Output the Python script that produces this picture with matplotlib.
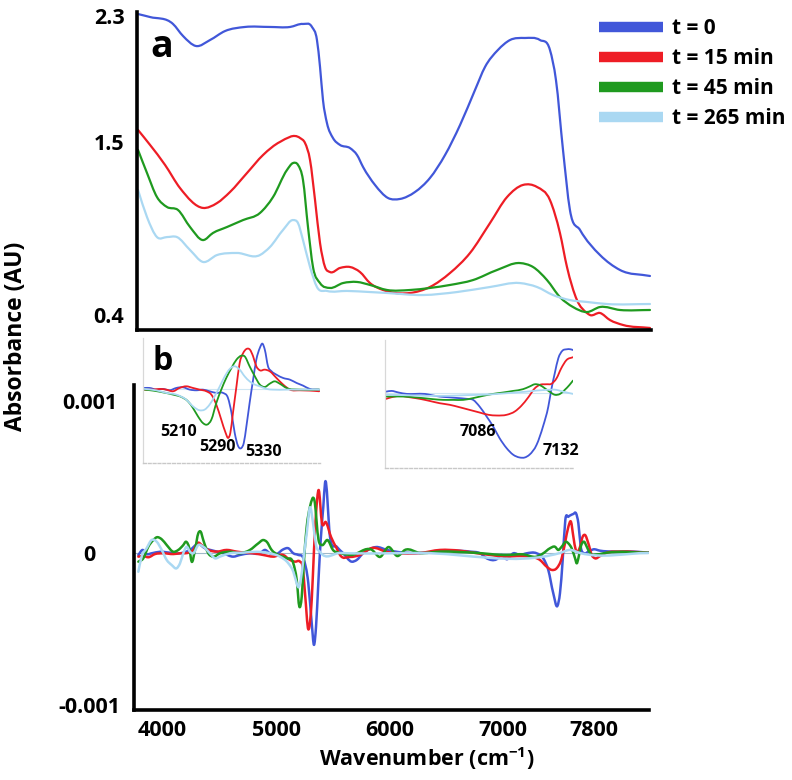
import matplotlib
matplotlib.use("Agg")
import matplotlib.pyplot as plt
import numpy as np
from matplotlib.lines import Line2D
from matplotlib.path import Path
from matplotlib.patches import PathPatch

plt.rcParams["font.family"] = ["Open Sans", "DejaVu Sans"]
plt.rcParams["font.weight"] = "bold"
plt.rcParams["mathtext.fontset"] = "custom"
plt.rcParams["mathtext.rm"] = "Open Sans:bold"
plt.rcParams["mathtext.bf"] = "Open Sans:bold"

SERIES = ["t = 0", "t = 15 min", "t = 45 min", "t = 265 min"]
COLORS = ["#4157d9", "#ee1d25", "#1f9a1f", "#aad8f2"]

# ---- panel a: absorbance (AU) vs wavenumber (cm-1)
a_blue_wn = [3783, 3889, 4091, 4179, 4294, 4417, 4549, 4725, 4945, 5122,
             5236, 5315, 5359, 5386, 5412, 5447, 5500, 5562, 5650, 5712,
             5765, 5870, 5985, 6090, 6222, 6354, 6487, 6619, 6751, 6839,
             6953, 7059, 7191, 7323, 7411, 7464, 7526, 7587, 7676, 7852,
             8028, 8292]
a_blue = [2.312, 2.293, 2.249, 2.173, 2.109, 2.147, 2.204, 2.230, 2.230, 2.230,
          2.249, 2.230, 2.147, 1.976, 1.766, 1.620, 1.525, 1.481, 1.461, 1.417,
          1.341, 1.227, 1.144, 1.138, 1.182, 1.271, 1.417, 1.607, 1.830, 1.976,
          2.084, 2.147, 2.160, 2.147, 2.084, 1.893, 1.449, 1.068, 0.941, 0.782,
          0.687, 0.649]
a_red_wn = [3783, 3889, 4021, 4153, 4355, 4479, 4593, 4743, 4884, 5033,
            5210, 5254, 5298, 5342, 5386, 5430, 5474, 5562, 5650, 5738,
            5826, 5941, 6002, 6178, 6354, 6531, 6707, 6883, 7033, 7174,
            7297, 7411, 7499, 7561, 7649, 7737, 7764, 7852, 7940, 8054, 8292]
a_red = [1.576, 1.481, 1.354, 1.207, 1.081, 1.112, 1.182, 1.303, 1.417, 1.500,
         1.525, 1.493, 1.385, 1.131, 0.858, 0.706, 0.674, 0.700, 0.706, 0.674,
         0.604, 0.560, 0.547, 0.541, 0.579, 0.668, 0.795, 0.985, 1.150, 1.227,
         1.214, 1.131, 0.922, 0.706, 0.496, 0.414, 0.401, 0.414, 0.369, 0.338,
         0.319]
a_green_wn = [3783, 3862, 3950, 4038, 4135, 4241, 4355, 4443, 4567, 4708,
              4857, 4972, 5095, 5148, 5192, 5236, 5280, 5324, 5386, 5474,
              5588, 5712, 5826, 5976, 6178, 6354, 6531, 6733, 6945, 7147,
              7262, 7385, 7499, 7614, 7737, 7852, 8028, 8292]
a_green = [1.449, 1.303, 1.150, 1.087, 1.068, 0.960, 0.877, 0.922, 0.960, 1.004,
           1.049, 1.150, 1.322, 1.366, 1.354, 1.258, 0.960, 0.706, 0.604, 0.573,
           0.604, 0.611, 0.592, 0.560, 0.560, 0.573, 0.592, 0.623, 0.687, 0.731,
           0.706, 0.623, 0.515, 0.452, 0.420, 0.452, 0.433, 0.433]
a_light_wn = [3783, 3862, 3950, 4038, 4126, 4241, 4355, 4479, 4655, 4857,
              4945, 5060, 5148, 5192, 5236, 5298, 5359, 5447, 5623, 5826,
              5976, 6293, 6592, 6883, 7147, 7297, 7438, 7587, 7737, 7913, 8292]
a_light = [1.195, 1.023, 0.896, 0.896, 0.896, 0.814, 0.738, 0.782, 0.795, 0.782,
           0.833, 0.941, 1.004, 0.985, 0.877, 0.706, 0.579, 0.554, 0.554, 0.547,
           0.541, 0.528, 0.547, 0.579, 0.604, 0.579, 0.528, 0.496, 0.484, 0.471,
           0.471]

# ---- panel b: second derivative, in units of 1e-3
b_blue_wn = [3786, 3824, 3859, 3903, 3977, 4065, 4153, 4241, 4314, 4373,
             4446, 4534, 4622, 4681, 4769, 4857, 4901, 4945, 5004, 5063,
             5107, 5151, 5195, 5239, 5283, 5313, 5333, 5351, 5371, 5392,
             5415, 5430, 5474, 5533, 5588, 5665, 5709, 5767, 5808, 5879,
             5976, 6068, 6266, 6443, 6560, 6707, 6795, 6854, 6942, 6986,
             7030, 7088, 7147, 7206, 7294, 7352, 7396, 7440, 7476, 7499,
             7523, 7546, 7573, 7617, 7640, 7661, 7682, 7711, 7749, 7793,
             7852, 7969, 8145, 8277]
b_blue = [-0.013, 0.020, -0.007, -0.002, 0.008, 0.002, -0.002, 0.020, 0.059, 0.031,
          0.015, -0.002, -0.024, -0.013, -0.002, -0.002, 0.020, -0.002, -0.007, 0.024,
          0.031, -0.002, -0.013, -0.035, -0.199, -0.461, -0.603, -0.483, -0.199, 0.085,
          0.303, 0.459, 0.105, 0.041, 0.000, -0.057, -0.046, 0.000, 0.020, 0.039,
          0.020, 0.007, 0.000, 0.009, 0.015, 0.009, -0.002, -0.035, -0.041, -0.013,
          -0.041, -0.002, -0.013, -0.002, -0.002, -0.035, -0.111, -0.264, -0.348, -0.264,
          -0.046, 0.216, 0.238, 0.256, 0.261, 0.195, 0.041, -0.002, 0.009, 0.024,
          0.015, 0.009, 0.009, 0.002]
b_red_wn = [3786, 3830, 3874, 3933, 4006, 4094, 4153, 4226, 4270, 4314,
            4344, 4402, 4476, 4564, 4652, 4725, 4798, 4886, 4974, 5063,
            5122, 5166, 5210, 5233, 5254, 5283, 5313, 5333, 5351, 5373,
            5403, 5437, 5483, 5531, 5562, 5650, 5738, 5844, 5976, 6266,
            6443, 6619, 6736, 6883, 7030, 7147, 7235, 7323, 7382, 7426,
            7470, 7514, 7543, 7573, 7596, 7617, 7638, 7652, 7676, 7699,
            7720, 7749, 7779, 7808, 7852, 7911, 8028, 8277]
b_red = [-0.024, -0.020, -0.028, -0.007, -0.002, -0.007, -0.002, 0.002, 0.020, 0.068,
         0.052, 0.020, 0.009, 0.020, 0.009, 0.002, -0.002, -0.013, -0.024, -0.013,
         -0.046, -0.057, -0.057, -0.090, -0.265, -0.501, -0.308, 0.020, 0.260, 0.413,
         0.197, 0.203, 0.105, 0.033, -0.013, -0.026, -0.013, 0.033, 0.007, 0.000,
         0.020, 0.015, 0.002, -0.013, -0.024, -0.020, -0.024, -0.046, -0.090, -0.111,
         -0.100, -0.035, 0.063, 0.172, 0.205, 0.107, 0.020, 0.009, 0.041, 0.107,
         0.118, 0.063, -0.013, -0.035, -0.020, 0.002, 0.009, 0.002]
b_green_wn = [3786, 3830, 3874, 3918, 3948, 3992, 4036, 4094, 4138, 4182,
              4206, 4235, 4256, 4285, 4314, 4335, 4358, 4402, 4446, 4505,
              4593, 4681, 4769, 4842, 4886, 4916, 4960, 5018, 5092, 5151,
              5181, 5204, 5225, 5245, 5269, 5298, 5336, 5373, 5403, 5453,
              5500, 5562, 5659, 5844, 5914, 5989, 6068, 6134, 6266, 6443,
              6736, 7030, 7176, 7294, 7352, 7411, 7455, 7484, 7514, 7552,
              7573, 7602, 7632, 7647, 7661, 7682, 7711, 7735, 7764, 7823,
              7911, 8277]
b_green = [-0.057, -0.035, 0.041, 0.085, 0.103, 0.090, 0.052, 0.008, 0.020, 0.052,
           0.074, 0.031, -0.057, 0.020, 0.129, 0.140, 0.085, -0.002, -0.024, -0.002,
           0.008, -0.002, 0.020, 0.063, 0.085, 0.074, 0.020, -0.013, -0.035, -0.068,
           -0.177, -0.352, -0.287, -0.046, 0.173, 0.304, 0.348, 0.085, 0.052, 0.085,
           0.020, 0.000, -0.013, 0.020, -0.026, 0.039, -0.020, 0.020, 0.000, 0.009,
           0.002, -0.013, -0.009, -0.024, -0.002, 0.031, 0.041, 0.020, 0.041, 0.074,
           0.063, 0.031, -0.035, -0.068, -0.035, 0.041, 0.074, 0.041, -0.002, -0.009,
           0.002, 0.002]
b_light_wn = [3786, 3815, 3859, 3903, 3948, 3992, 4036, 4080, 4124, 4153,
              4182, 4212, 4241, 4270, 4314, 4358, 4417, 4461, 4505, 4593,
              4710, 4828, 4945, 5033, 5107, 5151, 5181, 5195, 5216, 5239,
              5269, 5298, 5324, 5351, 5386, 5562, 6266, 7499, 7587, 7676, 8275]
b_light = [-0.123, -0.024, 0.031, 0.085, 0.074, 0.020, -0.046, -0.079, -0.100, -0.068,
           -0.002, 0.041, 0.008, -0.002, 0.052, 0.041, -0.002, -0.035, -0.024, -0.002,
           0.002, 0.008, -0.002, -0.024, -0.068, -0.123, -0.199, -0.225, -0.177, -0.046,
           0.129, 0.300, 0.200, 0.052, 0.007, 0.000, 0.000, 0.000, 0.020, 0.000, 0.000]

# ---- inset 1 (5000-5600 cm-1), units of 1e-3
i1_blue_wn = [4997, 5015, 5037, 5060, 5083, 5106, 5129, 5152, 5175, 5197,
              5220, 5243, 5266, 5283, 5295, 5306, 5317, 5329, 5337, 5346,
              5357, 5369, 5380, 5392, 5401, 5409, 5420, 5432, 5449, 5472,
              5495, 5518, 5540, 5563, 5595]
i1_blue = [0.007, 0.007, -0.010, -0.003, -0.017, 0.007, 0.014, -0.010, -0.017, -0.010,
           -0.027, -0.044, -0.044, -0.096, -0.249, -0.454, -0.584, -0.608, -0.557, -0.386,
           -0.147, 0.092, 0.297, 0.417, 0.461, 0.400, 0.229, 0.178, 0.143, 0.109,
           0.092, 0.058, 0.031, -0.003, -0.010]
i1_red_wn = [4997, 5026, 5049, 5072, 5095, 5117, 5140, 5163, 5186, 5209,
             5226, 5243, 5260, 5275, 5283, 5291, 5300, 5312, 5323, 5335,
             5346, 5358, 5369, 5380, 5392, 5409, 5426, 5449, 5472, 5495,
             5529, 5563, 5595]
i1_red = [-0.010, -0.010, -0.003, -0.010, -0.027, 0.007, 0.024, 0.007, -0.010, -0.027,
          -0.061, -0.164, -0.318, -0.454, -0.505, -0.454, -0.249, 0.024, 0.263, 0.365,
          0.406, 0.400, 0.331, 0.229, 0.188, 0.195, 0.178, 0.109, 0.041, -0.010,
          -0.017, -0.020, -0.027]
i1_green_wn = [4997, 5026, 5060, 5095, 5123, 5146, 5163, 5180, 5197, 5211,
               5226, 5243, 5260, 5277, 5295, 5312, 5329, 5340, 5357, 5375,
               5392, 5409, 5426, 5443, 5460, 5483, 5529, 5595]
i1_green = [-0.010, -0.020, -0.038, -0.061, -0.085, -0.130, -0.198, -0.283, -0.352, -0.369,
            -0.318, -0.147, -0.010, 0.109, 0.212, 0.297, 0.338, 0.331, 0.229, 0.126,
            0.041, 0.017, 0.051, 0.075, 0.051, 0.007, -0.010, -0.010]
i1_light_wn = [4997, 5037, 5072, 5106, 5140, 5163, 5186, 5203, 5220, 5237,
               5255, 5272, 5289, 5306, 5323, 5340, 5357, 5375, 5392, 5415,
               5437, 5483, 5595]
i1_light = [-0.003, -0.017, -0.044, -0.061, -0.113, -0.181, -0.222, -0.215, -0.164, -0.079,
            0.024, 0.126, 0.202, 0.229, 0.195, 0.126, 0.075, 0.041, 0.024, -0.003,
            -0.010, -0.010, -0.010]

# ---- inset 2 (6900-7210 cm-1), units of 1e-3
i2_blue_wn = [6896, 6905, 6917, 6931, 6945, 6962, 6973, 6987, 7002, 7016,
              7033, 7044, 7055, 7067, 7078, 7089, 7101, 7112, 7123, 7132,
              7140, 7152, 7163, 7172, 7177, 7183, 7189, 7196, 7203, 7210, 7214]
i2_blue = [0.009, 0.013, 0.004, -0.004, -0.004, -0.004, -0.011, -0.019, -0.023, -0.027,
           -0.032, -0.038, -0.076, -0.133, -0.189, -0.256, -0.313, -0.350, -0.366, -0.366,
           -0.350, -0.294, -0.189, -0.076, 0.019, 0.114, 0.199, 0.242, 0.250, 0.250, 0.246]
i2_red_wn = [6896, 6905, 6919, 6936, 6953, 6970, 6987, 7004, 7021, 7038,
             7055, 7070, 7084, 7101, 7115, 7126, 7138, 7149, 7157, 7169,
             7177, 7186, 7194, 7203, 7214]
i2_red = [-0.032, -0.023, -0.015, -0.023, -0.032, -0.044, -0.057, -0.066, -0.080, -0.095,
          -0.110, -0.123, -0.127, -0.123, -0.104, -0.072, -0.023, 0.028, 0.047, 0.051,
          0.053, 0.085, 0.142, 0.189, 0.205]
i2_green_wn = [6896, 6908, 6925, 6942, 6959, 6976, 6993, 7010, 7027, 7044,
               7061, 7078, 7095, 7112, 7129, 7140, 7149, 7157, 7166, 7174,
               7183, 7192, 7200, 7208, 7214]
i2_green = [-0.019, -0.019, -0.019, -0.023, -0.028, -0.034, -0.038, -0.038, -0.038, -0.028,
            -0.015, -0.004, 0.004, 0.013, 0.023, 0.038, 0.051, 0.047, 0.028, 0.009,
            -0.009, -0.004, 0.019, 0.047, 0.072]
i2_light_wn = [6896, 6925, 6965, 6999, 7033, 7067, 7101, 7135, 7169, 7186, 7197, 7214]
i2_light = [-0.009, -0.011, -0.015, -0.015, -0.011, -0.008, 0.000, 0.009, 0.019, 0.019,
            0.009, -0.004]

X_TICKS = [4000, 5000, 6000, 7000, 7800]
A_TICKS = [0.4, 1.5, 2.3]
B_TICKS = [-0.001, 0, 0.001]
B_TICK_LABELS = ["-0.001", "0", "0.001"]
I1_PEAKS = [(5114, -0.44, "5210"), (5248, -0.60, "5290"), (5406, -0.645, "5330")]
I2_PEAKS = [(7052, -0.222, "7086"), (7193, -0.330, "7132")]

W, H = 792, 780
fig = plt.figure(figsize=(W / 100, H / 100), dpi=100)


def px_axes(x0, y0, x1, y1):
    return fig.add_axes([x0 / W, 1 - y1 / H, (x1 - x0) / W, (y1 - y0) / H])


def smooth_line(ax, x, y, color, lw):
    # smoothed line through the points (like the spreadsheet "smoothed line")
    x = np.asarray(x, float)
    y = np.asarray(y, float)
    h = np.diff(x)
    s = np.diff(y) / h
    m = np.empty_like(y)
    m[0], m[-1] = s[0], s[-1]
    m[1:-1] = (s[:-1] * h[1:] + s[1:] * h[:-1]) / (h[:-1] + h[1:])
    verts = [(x[0], y[0])]
    codes = [Path.MOVETO]
    for i in range(len(x) - 1):
        verts += [(x[i] + h[i] / 3, y[i] + m[i] * h[i] / 3),
                  (x[i + 1] - h[i] / 3, y[i + 1] - m[i + 1] * h[i] / 3),
                  (x[i + 1], y[i + 1])]
        codes += [Path.CURVE4] * 3
    ax.add_patch(PathPatch(Path(verts, codes), fill=False, edgecolor=color,
                           lw=lw, capstyle="round", joinstyle="round"))


# panel a
ax_a = px_axes(137, 12, 651, 330)
for wn, val, c in zip([a_blue_wn, a_red_wn, a_green_wn, a_light_wn],
                      [a_blue, a_red, a_green, a_light], COLORS):
    smooth_line(ax_a, wn, val, c, 1.6)
ax_a.set_xlim(3774, 8301)
ax_a.set_ylim(0.306, 2.325)
ax_a.set_yticks(A_TICKS, [str(t) for t in A_TICKS])
ax_a.set_xticks([])
ax_a.text(0.049, 0.89, "a", transform=ax_a.transAxes, fontsize=27,
          fontweight="bold", ha="center", va="center")

# panel b
ax_b = px_axes(134, 385, 649, 710)
ax_b.axhline(0, color="#9fb8c8", lw=0.8, zorder=0)
for wn, val, c in zip([b_blue_wn, b_red_wn, b_green_wn, b_light_wn],
                      [b_blue, b_red, b_green, b_light], COLORS):
    smooth_line(ax_b, wn, np.array(val) * 1e-3, c, 1.8)
ax_b.set_xlim(3748, 8283)
ax_b.set_ylim(-1.030e-3, 1.102e-3)
ax_b.set_yticks(B_TICKS, B_TICK_LABELS)
ax_b.set_xticks(X_TICKS, [str(t) for t in X_TICKS])

for ax in (ax_a, ax_b):
    for side in ("top", "right"):
        ax.spines[side].set_visible(False)
    for side in ("left", "bottom"):
        ax.spines[side].set_linewidth(2.6)
        ax.spines[side].set_color("black")
    ax.tick_params(length=0, labelsize=15.5)
    ax.set_facecolor("none")
ax_a.tick_params(axis="y", pad=9)
ax_b.tick_params(axis="y", pad=32)
ax_b.tick_params(axis="x", pad=7)
for lab in ax_b.get_yticklabels():
    lab.set_horizontalalignment("center")

# insets
for rect, data, xlim, ylim in [
    ((143, 338, 320, 463),
     ([i1_blue_wn, i1_red_wn, i1_green_wn, i1_light_wn],
      [i1_blue, i1_red, i1_green, i1_light]),
     (4992, 5598), (-0.762, 0.519)),
    ((385, 340, 573, 468),
     ([i2_blue_wn, i2_red_wn, i2_green_wn, i2_light_wn],
      [i2_blue, i2_red, i2_green, i2_light]),
     (6894, 7214), (-0.426, 0.303)),
]:
    ins = px_axes(*rect)
    ins.axhline(0, color="#cfe6f2", lw=0.8, zorder=0)
    for wn, val, c in zip(data[0], data[1], COLORS):
        smooth_line(ins, wn, val, c, 1.3)
    ins.set_xlim(*xlim)
    ins.set_ylim(*ylim)
    ins.set_xticks([])
    ins.set_yticks([])
    ins.set_facecolor("none")
    for side in ("top", "right"):
        ins.spines[side].set_visible(False)
    ins.spines["left"].set_color("#d8d8d8")
    ins.spines["left"].set_linewidth(0.9)
    ins.spines["bottom"].set_color("#c8c8c8")
    ins.spines["bottom"].set_linewidth(1.0)
    ins.spines["bottom"].set_linestyle((0, (2, 1.5)))
    peaks = I1_PEAKS if xlim[0] < 6000 else I2_PEAKS
    for x, y, s in peaks:
        ins.text(x, y, s, fontsize=11.5, fontweight="bold", ha="center", va="center")

fig.text(163 / W, 1 - 362 / H, "b", fontsize=23, fontweight="bold",
         ha="center", va="center")

fig.text(427 / W, 1 - 759 / H, r"Wavenumber (cm$^{\mathbf{-1}}$)", fontsize=15.5,
         fontweight="bold", ha="center", va="center")
fig.text(16 / W, 1 - 336 / H, "Absorbance (AU)", fontsize=16.5,
         fontweight="bold", ha="center", va="center", rotation=90)

handles = [Line2D([], [], color=c, lw=7.5, solid_capstyle="butt") for c in COLORS]
fig.legend(handles, SERIES, loc="upper left", bbox_to_anchor=(599 / W, 1 - 18 / H),
           frameon=False, handlelength=3.05, handletextpad=0.45,
           labelspacing=0.43, borderpad=0, borderaxespad=0,
           prop={"weight": "bold", "size": 15})

fig.savefig("out.png", dpi=100)
